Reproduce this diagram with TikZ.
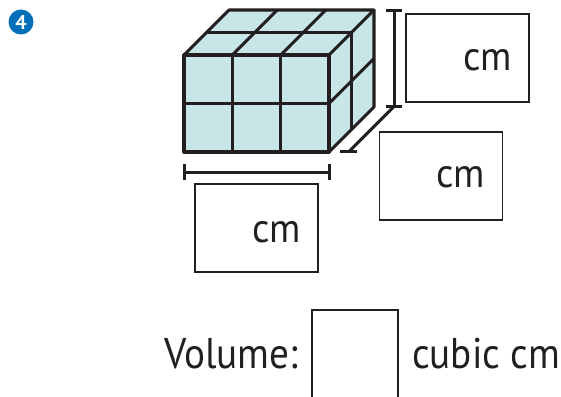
\documentclass[tikz,border=0pt]{standalone}
\usepackage{fontspec}
\setmainfont{PT Sans}
\newfontfamily\narrowsans[FakeStretch=0.94]{PT Sans}
\newfontfamily\narrowersans[FakeStretch=0.91]{PT Sans}
\definecolor{cubefill}{RGB}{200,229,231}
\definecolor{badgeblue}{RGB}{0,110,184}
\definecolor{ink}{RGB}{35,31,32}
\tikzset{
  edge/.style={draw=ink, line width=3.1pt, line join=round},
  dimline/.style={draw=ink, line width=3pt},
  ansbox/.style={draw=ink, line width=1.9pt, rectangle, minimum width=123pt, minimum height=88pt, inner sep=0pt},
  unit/.style={font=\narrowsans\fontsize{41}{48}\selectfont, text=ink, inner sep=0pt, anchor=base east},
  big/.style={font=\narrowersans\fontsize{43}{50}\selectfont, text=ink, inner sep=0pt}
}
\begin{document}
\begin{tikzpicture}[x=1pt,y=-1pt]
\useasboundingbox (0,0) rectangle (561,396);
% badge
\node[circle, fill=badgeblue, minimum size=25pt, inner sep=0pt, text=white, font=\bfseries\fontsize{20}{20}\selectfont] (badge) at (21,22) {4};
% cube faces
\coordinate (F1) at (184,55);
\coordinate (F2) at (329,55);
\coordinate (F3) at (329,152);
\coordinate (F4) at (184,152);
\coordinate (B1) at (229,10);
\coordinate (B2) at (374,10);
\coordinate (B3) at (374,107);
\fill[cubefill] (F4) -- (F1) -- (B1) -- (B2) -- (B3) -- (F3) -- cycle;
% front face grid
\draw[edge] (F1) rectangle (F3);
\draw[edge] (232.3,55) -- (232.3,152);
\draw[edge] (280.7,55) -- (280.7,152);
\draw[edge] (184,103.5) -- (329,103.5);
% top face
\draw[edge] (F1) -- (B1) -- (B2) -- (F2);
\draw[edge] (232.3,55) -- (277.3,10);
\draw[edge] (280.7,55) -- (325.7,10);
\draw[edge] (206.5,32.5) -- (351.5,32.5);
% right face
\draw[edge] (B2) -- (B3) -- (F3);
\draw[edge] (351.5,32.5) -- (351.5,129.5);
\draw[edge] (329,103.5) -- (374,58.5);
% dimension lines
\coordinate (vt) at (394,10.5);
\coordinate (vb) at (394,106.5);
\coordinate (db) at (349,151.5);
\coordinate (hl) at (184,172);
\coordinate (hr) at (329,172);
\draw[dimline] (vt) -- (vb);
\draw[dimline] ([xshift=-8pt]vt) -- ([xshift=8pt]vt);
\draw[dimline] ([xshift=-8pt]vb) -- ([xshift=8pt]vb);
\draw[dimline] (vb) -- (db);
\draw[dimline] ([xshift=-9pt]db) -- ([xshift=8pt]db);
\draw[dimline] (hl) -- (hr);
\draw[dimline] ([yshift=-8pt]hl) -- ([yshift=8pt]hl);
\draw[dimline] ([yshift=-8pt]hr) -- ([yshift=8pt]hr);
% answer boxes
\node[ansbox] (box1) at (467.5,58) {};
\node[unit] (cm1) at (512,70) {cm};
\node[ansbox] (box2) at (441,176) {};
\node[unit] (cm2) at (485,187) {cm};
\node[ansbox] (box3) at (256.5,228) {};
\node[unit] (cm3) at (301,242) {cm};
% volume
\node[big, anchor=base east] (vol) at (298,368) {Volume:};
\draw[ink, line width=1.9pt] (312,402) -- (312,310) -- (398,310) -- (398,402);
\node[big, anchor=base west] (cubic) at (412,368) {cubic cm};
\end{tikzpicture}
\end{document}
